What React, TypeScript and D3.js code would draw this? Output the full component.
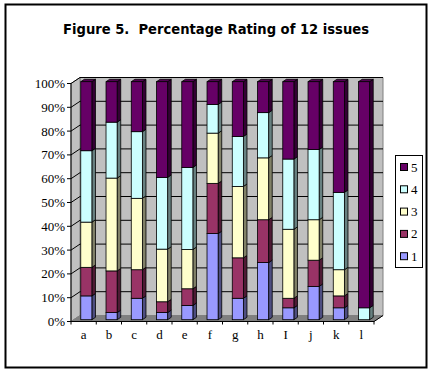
import * as React from "react";
import * as d3 from "d3";

const categories = ["a", "b", "c", "d", "e", "f", "g", "h", "I", "j", "k", "l"];
const rating1 = [10, 3, 9, 3, 6, 36, 9, 24, 5, 14, 5, 0];
const rating2 = [12, 17.5, 12, 4.5, 7, 21, 17, 18, 4, 11, 5, 0];
const rating3 = [19, 39, 30, 22, 16.5, 21, 30, 26, 29, 17, 11, 0];
const rating4 = [30, 23.5, 28, 30, 34.5, 12, 21, 19, 29.5, 29.5, 32.5, 5];
const rating5 = [29, 17, 21, 40, 36, 9.5, 23, 13, 32.5, 28.5, 46.5, 95];
const seriesKeys = ["1", "2", "3", "4", "5"];
const seriesColors = ["#9999ff", "#993366", "#ffffcc", "#ccffff", "#660066"];
const yTicks = [0, 0.1, 0.2, 0.3, 0.4, 0.5, 0.6, 0.7, 0.8, 0.9, 1];

const rows = categories.map((c, i) => ({
  cat: c,
  "1": rating1[i],
  "2": rating2[i],
  "3": rating3[i],
  "4": rating4[i],
  "5": rating5[i]
}));

export default function App() {
  const W = 433;
  const H = 373;
  const left = 71;
  const right = 374;
  const dx = 9; // 3d depth
  const dy = -6;

  const x = d3.scaleBand().domain(categories).range([left, right]);
  const y = d3.scaleLinear().domain([0, 1]).range([321.5, 83.5]);
  const stacked = d3
    .stack<any>()
    .keys(seriesKeys)
    .offset(d3.stackOffsetExpand)(rows);

  const barW = x.bandwidth() * 0.44;
  const bOff = 0.3; // bar front depth fraction
  const bDep = 0.4; // bar depth fraction
  const bx = (c: string) => x(c)! + x.bandwidth() / 2 - barW / 2 + dx * bOff;
  const by = (v: number) => y(v) + dy * bOff;
  const sdx = dx * bDep;
  const sdy = dy * bDep;

  const shade = (c: string, k: number) => d3.color(c)!.darker(k).toString();

  return (
    <svg width={W} height={H} style={{ position: "absolute", left: 0, top: 0 }}>
      <rect x={0} y={0} width={W} height={H} fill="#fff" />
      <rect x={5.5} y={4.5} width={421} height={363} fill="none" stroke="#000" strokeWidth={2} />
      <text
        x={216}
        y={34}
        textAnchor="middle"
        fontFamily="'DejaVu Sans', sans-serif"
        fontWeight="bold"
        fontSize={14}
        textLength={306}
        lengthAdjust="spacingAndGlyphs"
        style={{ whiteSpace: "pre" }}
      >
        {"Figure 5.  Percentage Rating of 12 issues"}
      </text>

      {/* walls */}
      <polygon
        points={`${left + dx},${y(1) + dy} ${right + dx},${y(1) + dy} ${right + dx},${y(0) + dy} ${left + dx},${y(0) + dy}`}
        fill="#c0c0c0"
        stroke="#808080"
      />
      <polygon
        points={`${left},${y(1)} ${left + dx},${y(1) + dy} ${left + dx},${y(0) + dy} ${left},${y(0)}`}
        fill="#c0c0c0"
        stroke="#808080"
      />
      <polygon
        points={`${left},${y(0)} ${left + dx},${y(0) + dy} ${right + dx},${y(0) + dy} ${right},${y(0)}`}
        fill="#808080"
        stroke="#808080"
      />
      {yTicks.slice(1).map(t => (
        <g key={t}>
          <line x1={left} y1={y(t)} x2={left + dx} y2={y(t) + dy} stroke="#000" />
          <line x1={left + dx} y1={y(t) + dy} x2={right + dx} y2={y(t) + dy} stroke="#000" />
        </g>
      ))}

      {/* bars */}
      {categories.map((c, i) => (
        <g key={c}>
          {stacked.map((s, k) => {
            const v0 = s[i][0];
            const v1 = s[i][1];
            if (v1 - v0 <= 0) return null;
            const x0 = bx(c);
            const col = seriesColors[k];
            const isTop = v1 >= 0.999;
            return (
              <g key={k}>
                <polygon
                  points={`${x0 + barW},${by(v1)} ${x0 + barW + sdx},${by(v1) + sdy} ${x0 + barW + sdx},${by(v0) + sdy} ${x0 + barW},${by(v0)}`}
                  fill={shade(col, 1.9)}
                  stroke="#000"
                  strokeWidth={0.8}
                />
                {isTop && (
                  <polygon
                    points={`${x0},${by(v1)} ${x0 + sdx},${by(v1) + sdy} ${x0 + barW + sdx},${by(v1) + sdy} ${x0 + barW},${by(v1)}`}
                    fill={shade(col, 0.6)}
                    stroke="#000"
                    strokeWidth={0.8}
                  />
                )}
                <rect
                  x={x0}
                  y={by(v1)}
                  width={barW}
                  height={by(v0) - by(v1)}
                  fill={col}
                  stroke="#000"
                  strokeWidth={0.8}
                />
              </g>
            );
          })}
        </g>
      ))}

      {/* axes */}
      <line x1={left} y1={y(1)} x2={left} y2={y(0)} stroke="#000" />
      <line x1={left} y1={y(0)} x2={right} y2={y(0)} stroke="#000" />
      <line x1={right} y1={y(0)} x2={right + dx} y2={y(0) + dy} stroke="#000" />
      {yTicks.map(t => (
        <g key={t}>
          <line x1={left - 4} y1={y(t)} x2={left} y2={y(t)} stroke="#000" />
          <text
            x={left - 6}
            y={y(t) + 4.5}
            textAnchor="end"
            fontFamily="'Liberation Serif', serif"
            fontSize={13}
          >
            {d3.format(".0%")(t)}
          </text>
        </g>
      ))}
      {categories.map(c => (
        <g key={c}>
          <line x1={x(c)!} y1={y(0)} x2={x(c)!} y2={y(0) + 3} stroke="#000" />
          <text
            x={x(c)! + x.bandwidth() / 2}
            y={339}
            textAnchor="middle"
            fontFamily="'Liberation Serif', serif"
            fontSize={13}
          >
            {c}
          </text>
        </g>
      ))}
      <line x1={right} y1={y(0)} x2={right} y2={y(0) + 3} stroke="#000" />

      {/* legend */}
      <rect x={395.5} y={155.5} width={27} height={112} fill="#fff" stroke="#000" />
      {seriesKeys
        .slice()
        .reverse()
        .map((k, i) => {
          const col = seriesColors[seriesKeys.indexOf(k)];
          const cy = 167 + i * 22.3;
          return (
            <g key={k}>
              <rect x={400.5} y={cy - 3.5} width={7} height={7} fill={col} stroke="#000" />
              <text x={411} y={cy + 4.5} fontFamily="'Liberation Serif', serif" fontSize={13}>
                {k}
              </text>
            </g>
          );
        })}
    </svg>
  );
}
